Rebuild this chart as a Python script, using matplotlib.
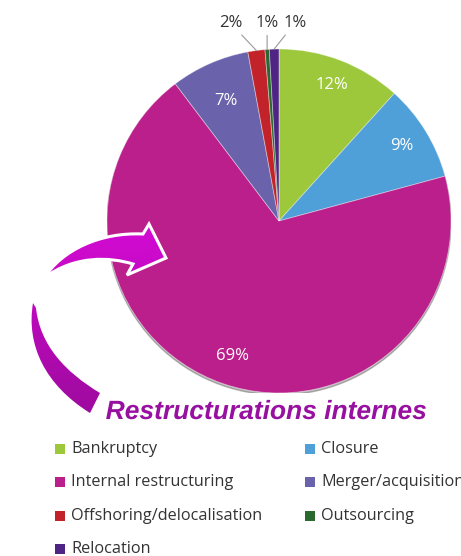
import numpy as np
import matplotlib.pyplot as plt
from matplotlib.patches import Circle, Rectangle, PathPatch
from matplotlib.path import Path
from matplotlib.colors import LinearSegmentedColormap
import matplotlib.patheffects as pe

# data
categories = ["Bankruptcy", "Closure", "Internal restructuring", "Merger/acquisition",
              "Offshoring/delocalisation", "Outsourcing", "Relocation"]
shares = [11.7, 9.1, 68.9, 7.4, 1.6, 0.4, 0.9]          # slice sizes as measured
pct_labels = ["12%", "9%", "69%", "7%", "2%", "1%", "1%"]  # printed labels
colors = ["#9dc83b", "#4f9fd8", "#bb1f8b", "#6a63ab", "#c2232b", "#2b6a2e", "#4f2484"]

W, H = 461, 556
fig = plt.figure(figsize=(W / 100, H / 100), dpi=100)

# pie axes: centre (279, 221) px, radius 172 px
cx, cy, r = 279, 221, 172
ax = fig.add_axes([(cx - r) / W, (H - cy - r) / H, 2 * r / W, 2 * r / H])

ax.add_patch(Circle((0.0, -0.012), 1.0, color="#444444", alpha=0.35, zorder=0))
wedges, _ = ax.pie(shares, colors=colors, startangle=90, counterclock=False, radius=1,
                   wedgeprops=dict(edgecolor=(1, 1, 1, 0.45), linewidth=0.6))
ax.set_xlim(-1, 1)
ax.set_ylim(-1, 1)
ax.axis("off")

inner_r = iter([0.85, 0.84, 0.83, 0.76])
small_dx = iter([-0.15, 0.0, 0.12])
for w, s, lab in zip(wedges, shares, pct_labels):
    a = np.deg2rad((w.theta1 + w.theta2) / 2)
    if s > 5:
        rr = next(inner_r)
        ax.text(rr * np.cos(a), rr * np.sin(a), lab, color="white", fontsize=12,
                family="Open Sans", ha="center", va="center")
    else:
        ex, ey = np.cos(a), np.sin(a)
        ax.annotate(lab, xy=(ex, ey), xytext=(ex + next(small_dx), 1.15),
                    ha="center", va="center", fontsize=12, family="Open Sans",
                    color="#333333", annotation_clip=False,
                    arrowprops=dict(arrowstyle="-", color="#999999", lw=0.8,
                                    shrinkA=1, shrinkB=0))

# overlay in pixel coordinates for the arrow, caption and legend
ov = fig.add_axes([0, 0, 1, 1])
ov.patch.set_alpha(0)

C3, L2, M = Path.CURVE4, Path.LINETO, Path.MOVETO
upper = Path([(44, 278), (62, 250), (100, 232), (143, 234),
              (149, 224), (166, 258), (127, 275), (133, 264),
              (110, 257), (75, 255), (44, 278), (44, 278)],
             [M, C3, C3, C3, L2, L2, L2, L2, C3, C3, C3, Path.CLOSEPOLY])
lower = Path([(33, 303), (26, 345), (45, 385), (90, 413),
              (100, 393), (65, 372), (40, 345), (36, 308), (33, 303)],
             [M, C3, C3, C3, L2, C3, C3, C3, Path.CLOSEPOLY])

grad = np.linspace(0, 1, 200)[:, None]
cmap = LinearSegmentedColormap.from_list("mg", ["#d40ad4", "#9c0a9c"])
for p, edge in [(upper, "white"), (lower, "none")]:
    clip = PathPatch(p, facecolor="none", edgecolor="none")
    ov.add_patch(clip)
    im = ov.imshow(grad, cmap=cmap, extent=[0, 200, 420, 225], aspect="auto", zorder=2)
    im.set_clip_path(clip)
    ov.add_patch(PathPatch(p, facecolor="none", edgecolor=edge, lw=2.2, zorder=3))
ov.set_xlim(0, W)
ov.set_ylim(H, 0)
ov.axis("off")

ov.text(266, 419, "Restructurations internes", fontsize=19, fontweight="bold",
        fontstyle="italic", family=["Liberation Sans Narrow", "Liberation Sans"],
        color="#9710a0", ha="center", va="baseline", zorder=4,
        path_effects=[pe.withStroke(linewidth=3, foreground="white")])

# legend, filled row by row
for i, (name, col) in enumerate(zip(categories, colors)):
    row, c = divmod(i, 2)
    x, y = 55 + c * 250, 449 + row * 33.3
    ov.add_patch(Rectangle((x, y - 5), 10, 10, facecolor=col, edgecolor="none"))
    ov.text(x + 16, y, name, fontsize=11.7, family="Open Sans", color="#333333",
            ha="left", va="center")

fig.savefig("out.png", dpi=100)
